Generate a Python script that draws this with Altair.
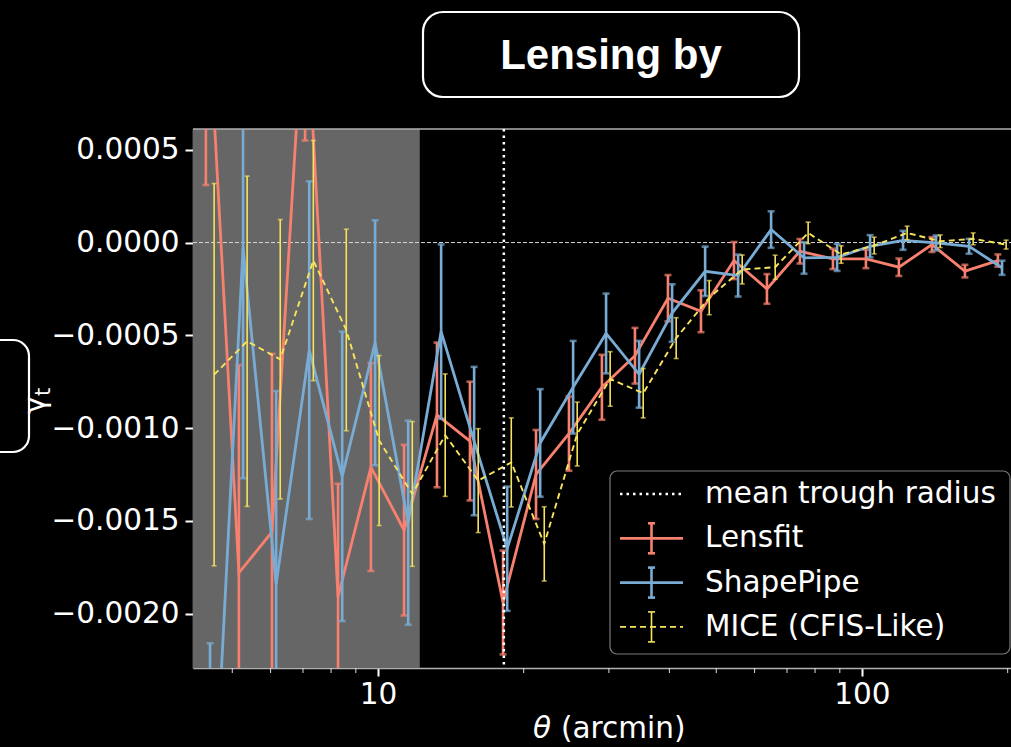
import altair as alt
import pandas as pd

# Angular bin centres (arcmin) and tangential shear profiles around troughs
theta = [4.41, 5.16, 6.04, 7.07, 8.27, 9.67, 11.32, 13.24, 15.49, 18.13,
         21.21, 24.81, 29.02, 33.96, 39.73, 46.49, 54.39, 63.63, 74.43, 87.10,
         101.9, 119.2, 139.5, 163.2, 190.9]

lensfit_g = [0.00150, -0.00178, -0.00156, 0.00140, -0.00191, -0.00121, -0.00155,
             -0.000929, -0.00107, -0.00194, -0.00125, -0.00103, -0.00078, -0.00061,
             -0.00030, -0.00037, -0.000097, -0.00025, -0.000047, -0.000088,
             -0.000088, -0.000133, -0.000011, -0.000154, -0.000097]
lensfit_err = [0.00119, 0.00112, 0.00096, 0.00085, 0.00061, 0.00056, 0.00046,
               0.00039, 0.00032, 0.00028, 0.00024, 0.00020, 0.000175, 0.00015,
               0.000125, 0.000113, 0.00010, 0.00008, 0.000066, 0.000055,
               0.00005, 0.000047, 0.00004, 0.000034, 0.000033]

shapepipe_g = [-0.0035, -0.00003, -0.00184, -0.00058, -0.00126, -0.00054, -0.00151,
               -0.00048, -0.00107, -0.00165, -0.00108, -0.00078, -0.00049, -0.00071,
               -0.00038, -0.000155, -0.000178, 0.00007, -0.000083, -0.00008,
               -0.00002, 0.000012, -0.000002, -0.00002, -0.000136]
shapepipe_err = [0.00134, 0.00124, 0.00104, 0.00091, 0.00078, 0.00066, 0.00055,
                 0.00047, 0.00040, 0.000335, 0.00029, 0.00025, 0.000215, 0.00018,
                 0.000155, 0.000133, 0.000113, 0.0000985, 0.000085, 0.000073,
                 0.00006, 0.000051, 0.00004, 0.00004, 0.000038]

mice_g = [-0.000712, -0.000532, -0.000629, -0.000097, -0.000471, -0.001067, -0.001355,
          -0.001038, -0.001283, -0.001185, -0.001624, -0.001032, -0.000735, -0.000812,
          -0.000515, -0.000297, -0.000145, -0.000133, 0.000052, -0.0000645,
          -0.000016, 0.000052, 0.000007, 0.00002, -0.000011]
mice_err = [0.00103, 0.00089, 0.000753, 0.000647, 0.000543, 0.000458, 0.00039,
            0.00033, 0.00028, 0.00024, 0.00020, 0.000172, 0.000147, 0.000133,
            0.00011, 0.000092, 0.000078, 0.000065, 0.000058, 0.000047,
            0.000045, 0.000036, 0.000034, 0.000032, 0.000024]

series_names = ["Lensfit", "ShapePipe", "MICE (CFIS-Like)"]
series_colors = ["#f8806f", "#79acd4", "#f7e35c"]
# small multiplicative shift in theta so the error bars do not overlap
series_shift = [1.0, 1.02, 1.04]

trough_radius = 18.2      # mean trough radius (arcmin)
masked_limit = 12.2       # scales below this are shaded out

X_DOMAIN = [4.148, 203.2]
Y_DOMAIN = [-0.002293, 0.000612]
W, H = 818, 539
FONT = "DejaVu Sans"
FS = 29.5

xscale = alt.Scale(type="log", domain=X_DOMAIN, nice=False)
yscale = alt.Scale(domain=Y_DOMAIN, nice=False, zero=False)

xaxis = alt.Axis(values=[10, 100], labelExpr="format(datum.value, 'd')",
                 title=None, tickSize=8, tickWidth=2, labelPadding=4,
                 grid=False)
yaxis = alt.Axis(values=[-0.002, -0.0015, -0.001, -0.0005, 0, 0.0005],
                 format=".4f", title=None, tickSize=8, tickWidth=2,
                 labelPadding=6, grid=False)


def X(field):
    return alt.X(field, type="quantitative", scale=xscale, axis=xaxis)


def Y(field):
    return alt.Y(field, type="quantitative", scale=yscale, axis=yaxis)


one = pd.DataFrame({"k": [0]})

# framed boxes around the plot (title box and side box), drawn first
title_box = alt.Chart(one).mark_rect(fill="black", stroke="white", strokeWidth=2.2,
                                     cornerRadius=20).encode(
    x=alt.value(230), x2=alt.value(606), y=alt.value(-117), y2=alt.value(-32))
side_box = alt.Chart(one).mark_rect(fill="black", stroke="white", strokeWidth=2.2,
                                    cornerRadius=16).encode(
    x=alt.value(-240), x2=alt.value(-164), y=alt.value(211), y2=alt.value(323))

# shaded small-scale region
band = alt.Chart(pd.DataFrame({"x0": [X_DOMAIN[0]], "x1": [masked_limit]})).mark_rect(
    color="#666666").encode(x=X("x0"), x2="x1", y=alt.value(0), y2=alt.value(H))

zero_line = alt.Chart(one).mark_rule(color="#d8d8d8", strokeWidth=1, strokeDash=[4, 2]).encode(
    y=alt.datum(0, scale=yscale, axis=yaxis), x=alt.value(0), x2=alt.value(W))

frame_top = alt.Chart(one).mark_rule(color="#b0b0b0", strokeWidth=1.5).encode(
    y=alt.value(0), x=alt.value(0), x2=alt.value(W))

# minor log ticks on the theta axis
minor = alt.Chart(pd.DataFrame({"t": [5, 6, 7, 8, 9, 20, 30, 40, 50, 60, 70, 80, 90, 200]})).mark_rule(
    color="#dddddd", strokeWidth=1).encode(x=X("t"), y=alt.value(H), y2=alt.value(H + 5))

layers = [title_box, side_box, band, zero_line, frame_top, minor]

profiles = [(lensfit_g, lensfit_err), (shapepipe_g, shapepipe_err), (mice_g, mice_err)]
for (g, err), name, color, shift in zip(profiles, series_names, series_colors, series_shift):
    df = pd.DataFrame({
        "theta": [t * shift for t in theta],
        "g": g,
        "lo": [v - e for v, e in zip(g, err)],
        "hi": [v + e for v, e in zip(g, err)],
    })
    dashed = name.startswith("MICE")
    lw = 1.9 if dashed else 2.8
    bw = 1.6 if dashed else 2.6
    cap = 5 if dashed else 7
    line_kw = dict(color=color, strokeWidth=lw, clip=True)
    if dashed:
        line_kw["strokeDash"] = [6, 4]
    base = alt.Chart(df)
    layers.append(base.mark_rule(color=color, strokeWidth=bw, clip=True).encode(
        x=X("theta"), y=Y("lo"), y2="hi"))
    for end in ("lo", "hi"):
        layers.append(base.mark_tick(color=color, orient="horizontal", size=cap,
                                     thickness=bw, clip=True).encode(x=X("theta"), y=Y(end)))
    layers.append(base.mark_line(**line_kw).encode(x=X("theta"), y=Y("g")))

trough = alt.Chart(one).mark_rule(color="white", strokeWidth=2.5, strokeDash=[2.5, 4]).encode(
    x=alt.datum(trough_radius, scale=xscale, axis=xaxis))
layers.append(trough)

# legend
LX0, LX1, LTX = 427, 490, 512
legend_box = alt.Chart(one).mark_rect(fill="black", fillOpacity=0.85, stroke="#7a7a7a",
                                      strokeWidth=1.2, cornerRadius=7).encode(
    x=alt.value(417), x2=alt.value(817), y=alt.value(342), y2=alt.value(525))
layers.append(legend_box)

legend_labels = ["mean trough radius"] + series_names
legend_colors = ["white"] + series_colors
for k, (lab, col) in enumerate(zip(legend_labels, legend_colors)):
    ry = 365 + 44.3 * k
    if k == 0:
        layers.append(alt.Chart(one).mark_rule(color=col, strokeWidth=2.5, strokeDash=[2.5, 4]).encode(
            x=alt.value(LX0), x2=alt.value(LX1), y=alt.value(ry)))
    else:
        dashed = lab.startswith("MICE")
        kw = dict(color=col, strokeWidth=1.9 if dashed else 2.8)
        if dashed:
            kw["strokeDash"] = [6, 4]
        bw = 1.6 if dashed else 2.6
        cx = (LX0 + LX1) / 2
        layers.append(alt.Chart(one).mark_rule(**kw).encode(
            x=alt.value(LX0), x2=alt.value(LX1), y=alt.value(ry)))
        layers.append(alt.Chart(one).mark_rule(color=col, strokeWidth=bw).encode(
            x=alt.value(cx), y=alt.value(ry - 15), y2=alt.value(ry + 15)))
        for dy in (-15, 15):
            layers.append(alt.Chart(one).mark_rule(color=col, strokeWidth=bw).encode(
                x=alt.value(cx - 3.5), x2=alt.value(cx + 3.5), y=alt.value(ry + dy)))
    layers.append(alt.Chart(one).mark_text(text=lab, color="white", font=FONT, fontSize=FS,
                                           align="left", baseline="middle").encode(
        x=alt.value(LTX), y=alt.value(ry)))

# axis titles
layers.append(alt.Chart(one).mark_text(text="θ", color="white", font=FONT, fontSize=FS,
                                       fontStyle="italic", align="center", baseline="middle").encode(
    x=alt.value(349), y=alt.value(600)))
layers.append(alt.Chart(one).mark_text(text="(arcmin)", color="white", font=FONT, fontSize=FS,
                                       align="left", baseline="middle").encode(
    x=alt.value(368), y=alt.value(600)))
# gamma with subscript t, rotated to read upwards
layers.append(alt.Chart(one).mark_text(text="γ", color="white", font=FONT, fontSize=30,
                                       angle=270, align="center", baseline="middle").encode(
    x=alt.value(-157), y=alt.value(276)))
layers.append(alt.Chart(one).mark_text(text="t", color="white", font=FONT, fontSize=21,
                                       angle=270, align="center", baseline="middle").encode(
    x=alt.value(-149), y=alt.value(263)))

# title text
layers.append(alt.Chart(one).mark_text(text="Lensing by", color="white", font="Liberation Sans",
                                       fontSize=42, fontWeight="bold", align="center",
                                       baseline="middle").encode(
    x=alt.value(418), y=alt.value(-73)))

chart = alt.layer(*layers).properties(
    width=W, height=H,
    autosize=alt.AutoSizeParams(type="none"),
    padding={"left": 193, "top": 129, "right": 0, "bottom": 79},
    background="black",
).configure_view(stroke=None).configure_axis(
    labelFont=FONT, labelFontSize=FS, labelColor="white", tickColor="white",
    domainColor="#b0b0b0", domainWidth=1.5,
)

chart.save("out.html", embed_options={"renderer": "svg", "actions": False})
